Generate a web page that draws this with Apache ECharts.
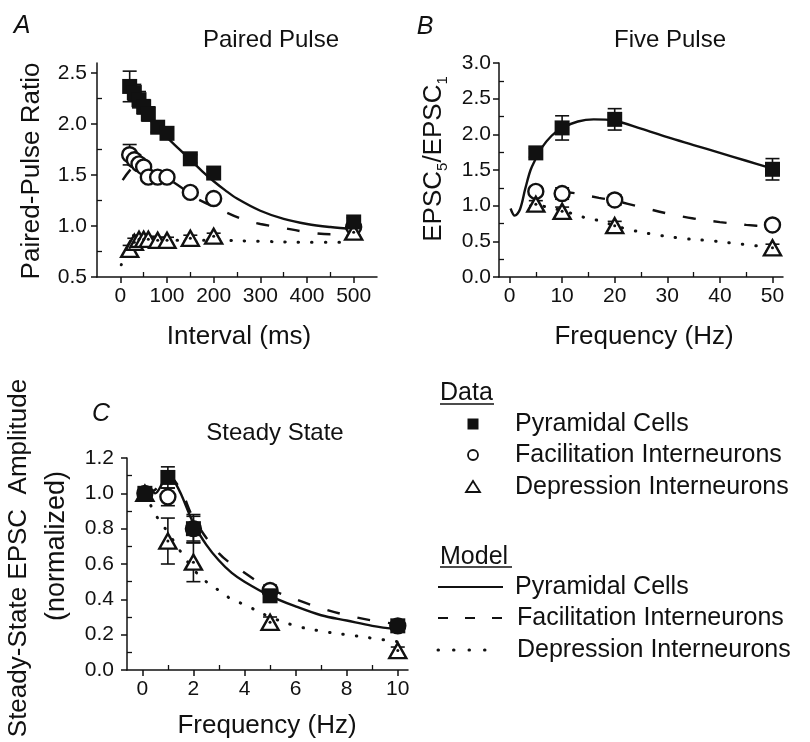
<!DOCTYPE html>
<html>
<head>
<meta charset="utf-8">
<script src="https://cdn.jsdelivr.net/npm/echarts@6/dist/echarts.min.js"></script>
<style>
  html, body { margin: 0; padding: 0; background: #fff; }
  #chart { width: 810px; height: 742px; }
</style>
</head>
<body>
<div id="chart"></div>
<script>
// ---- A: paired pulse ----
var ppInterval = [20, 30, 40, 50, 60, 80, 100, 150, 200, 500];
var ppPyr = [2.37, 2.31, 2.24, 2.17, 2.10, 1.97, 1.91, 1.66, 1.52, 1.04];
var ppPyrErr = [0.15, 0.08, 0.08, 0.07, 0.07, 0.05, 0.05, 0.04, 0.04, 0.04];
var ppFac = [1.70, 1.65, 1.61, 1.58, 1.48, 1.48, 1.48, 1.33, 1.27, 0.99];
var ppFacErr = [0.10, 0.05, 0.04, 0.04, 0.03, 0.03, 0.03, 0.03, 0.03, 0.03];
var ppDep = [0.77, 0.84, 0.87, 0.87, 0.87, 0.86, 0.86, 0.88, 0.90, 0.94];
var ppDepErr = [0.04, 0.04, 0.04, 0.04, 0.03, 0.03, 0.03, 0.03, 0.03, 0.03];
var ppModelPyr = [[20, 2.40], [40, 2.24], [60, 2.09], [80, 1.97], [100, 1.87], [125, 1.76], [150, 1.65], [175, 1.54], [200, 1.44], [225, 1.35], [250, 1.27], [300, 1.15], [350, 1.07], [400, 1.02], [450, 0.99], [500, 0.97]];
var ppModelFac = [[5, 1.45], [25, 1.57], [40, 1.60], [60, 1.56], [80, 1.52], [100, 1.47], [130, 1.38], [160, 1.28], [210, 1.17], [260, 1.07], [300, 1.02], [340, 0.99], [400, 0.94], [450, 0.92], [500, 0.92]];
var ppModelDep = [[2, 0.62], [10, 0.70], [20, 0.77], [30, 0.82], [50, 0.85], [100, 0.86], [200, 0.86], [300, 0.85], [400, 0.84], [475, 0.84]];
var ppXTicks = [0, 100, 200, 300, 400, 500];
var ppXMinor = [50, 150, 250, 350, 450];
var ppYTicks = [0.5, 1.0, 1.5, 2.0, 2.5];
var ppYMinor = [0.75, 1.25, 1.75, 2.25];

// ---- B: five pulse ----
var fpFreq = [5, 10, 20, 50];
var fpPyr = [1.74, 2.09, 2.21, 1.51];
var fpPyrErr = [0.06, 0.17, 0.15, 0.15];
var fpFac = [1.20, 1.17, 1.08, 0.73];
var fpFacErr = [0.06, 0.08, 0.07, 0.06];
var fpDep = [1.02, 0.92, 0.72, 0.41];
var fpDepErr = [0.05, 0.06, 0.06, 0.05];
var fpModelPyr = [[0.2, 0.96], [1, 0.86], [2, 0.95], [3, 1.24], [4, 1.50], [5, 1.66], [6, 1.80], [8, 1.98], [10, 2.09], [13, 2.18], [16, 2.21], [20, 2.19], [25, 2.08], [30, 1.96], [35, 1.85], [40, 1.74], [45, 1.63], [50, 1.52]];
var fpModelFac = [[4, 1.19], [5, 1.20], [10, 1.19], [12, 1.18], [17, 1.11], [20, 1.07], [25, 0.98], [30, 0.89], [35, 0.82], [40, 0.77], [45, 0.73], [50, 0.70]];
var fpModelDep = [[4, 1.00], [5, 1.00], [10, 0.93], [14, 0.84], [17, 0.79], [20, 0.72], [23, 0.66], [28, 0.59], [33, 0.54], [38, 0.51], [43, 0.47], [50, 0.41]];
var fpXTicks = [0, 10, 20, 30, 40, 50];
var fpXMinor = [5, 15, 25, 35, 45];
var fpYTicks = [0, 0.5, 1.0, 1.5, 2.0, 2.5, 3.0];
var fpYMinor = [0.25, 0.75, 1.25, 1.75, 2.25, 2.75];

// ---- C: steady state ----
var ssFreq = [0.1, 1, 2, 5, 10];
var ssPyr = [1.00, 1.09, 0.80, 0.42, 0.25];
var ssPyrErr = [0.03, 0.06, 0.07, 0.03, 0.02];
var ssFac = [1.00, 0.98, 0.80, 0.45, 0.25];
var ssFacErr = [0.02, 0.05, 0.08, 0.03, 0.02];
var ssDep = [1.00, 0.73, 0.61, 0.27, 0.11];
var ssDepErr = [0.02, 0.13, 0.11, 0.03, 0.02];
var ssModelPyr = [[0.1, 1.00], [0.3, 1.03], [0.5, 1.00], [0.8, 1.06], [1, 1.10], [1.2, 1.08], [1.5, 1.00], [2, 0.83], [2.5, 0.71], [3, 0.62], [3.5, 0.55], [4, 0.50], [5, 0.42], [6, 0.36], [7, 0.31], [8, 0.28], [9, 0.25], [10, 0.23]];
var ssModelFac = [[0.1, 1.00], [0.5, 1.02], [1, 1.10], [1.5, 1.02], [2, 0.86], [3, 0.66], [4, 0.55], [5, 0.46], [6, 0.40], [7, 0.35], [8, 0.31], [9, 0.28], [10, 0.26]];
var ssModelDep = [[0.1, 1.00], [0.3, 0.94], [0.6, 0.86], [1, 0.78], [1.5, 0.67], [2, 0.57], [2.5, 0.50], [3, 0.45], [3.5, 0.40], [4, 0.37], [5, 0.30], [6, 0.25], [7, 0.22], [8, 0.20], [9, 0.18], [10, 0.16]];
var ssXTicks = [0, 2, 4, 6, 8, 10];
var ssXMinor = [1, 3, 5, 7, 9];
var ssYTicks = [0, 0.2, 0.4, 0.6, 0.8, 1.0, 1.2];
var ssYMinor = [0.1, 0.3, 0.5, 0.7, 0.9, 1.1];

var FONT = '"Liberation Sans", Arial, Helvetica, sans-serif';
var INK = '#111';

var myChart = echarts.init(document.getElementById('chart'));

function pairs(xs, ys) { return xs.map(function (x, i) { return [x, ys[i]]; }); }
function triples(xs, ys, es) { return xs.map(function (x, i) { return [x, ys[i], es[i]]; }); }
function fmt1(v) { return v.toFixed(1); }
function fmt0(v) { return String(Math.round(v)); }

// main axis: line, outward ticks, labels
function mainAxis(gridIndex, pos, min, max, ticks, fmt, margin) {
  return {
    type: 'value', gridIndex: gridIndex, position: pos, min: min, max: max,
    axisLine: { show: true, onZero: false, lineStyle: { color: INK, width: 1.5 } },
    axisTick: { show: true, customValues: ticks, length: 6, lineStyle: { color: INK, width: 1.5 } },
    axisLabel: { customValues: ticks, formatter: fmt, color: INK, fontSize: 21, fontFamily: FONT, margin: margin },
    splitLine: { show: false }
  };
}
// second axis only for the small inward ticks
function minorAxis(gridIndex, pos, min, max, ticks) {
  return {
    type: 'value', gridIndex: gridIndex, position: pos, min: min, max: max,
    axisLine: { show: false, onZero: false },
    axisTick: { show: true, inside: true, customValues: ticks, length: 5, lineStyle: { color: INK, width: 1.3 } },
    axisLabel: { show: false },
    splitLine: { show: false }
  };
}

function errorBars(ax, data) {
  return {
    type: 'custom', xAxisIndex: ax, yAxisIndex: ax, z: 3, silent: true,
    data: data, encode: { x: 0, y: 1 },
    renderItem: function (params, api) {
      var x = api.value(0), y = api.value(1), e = api.value(2);
      var hi = api.coord([x, y + e]), lo = api.coord([x, y - e]);
      var w = 7, st = { stroke: INK, lineWidth: 1.6 };
      return { type: 'group', children: [
        { type: 'line', shape: { x1: hi[0], y1: hi[1], x2: lo[0], y2: lo[1] }, style: st },
        { type: 'line', shape: { x1: hi[0] - w, y1: hi[1], x2: hi[0] + w, y2: hi[1] }, style: st },
        { type: 'line', shape: { x1: lo[0] - w, y1: lo[1], x2: lo[0] + w, y2: lo[1] }, style: st }
      ]};
    }
  };
}

function modelLine(ax, data, kind) {
  var ls = { color: INK, width: 2.4, type: 'solid' };
  if (kind === 'dash') { ls.type = [13, 18]; }
  if (kind === 'dot') { ls.type = [0.5, 13]; ls.width = 3; ls.cap = 'round'; }
  return { type: 'line', xAxisIndex: ax, yAxisIndex: ax, data: data, symbol: 'none', showSymbol: false,
    smooth: 0.35, z: 2, silent: true, lineStyle: ls };
}

function markers(ax, pyr, fac, dep) {
  var open = { color: '#fff', borderColor: INK, borderWidth: 2.4, opacity: 1 };
  return [
    { type: 'scatter', xAxisIndex: ax, yAxisIndex: ax, data: fac, symbol: 'circle', symbolSize: 15, z: 4, itemStyle: open },
    { type: 'scatter', xAxisIndex: ax, yAxisIndex: ax, data: dep, symbol: 'triangle', symbolSize: [17, 15], z: 4, itemStyle: open },
    { type: 'scatter', xAxisIndex: ax, yAxisIndex: ax, data: dep, symbol: 'circle', symbolSize: 3, z: 5,
      itemStyle: { color: INK, opacity: 1 } },
    { type: 'scatter', xAxisIndex: ax, yAxisIndex: ax, data: pyr, symbol: 'rect', symbolSize: 15, z: 5,
      itemStyle: { color: INK, opacity: 1 } }
  ];
}

function panelSeries(ax, xs, pyr, pyrE, fac, facE, dep, depE, mPyr, mFac, mDep) {
  return [
    modelLine(ax, mPyr, 'solid'), modelLine(ax, mFac, 'dash'), modelLine(ax, mDep, 'dot'),
    errorBars(ax, triples(xs, pyr, pyrE)), errorBars(ax, triples(xs, fac, facE)), errorBars(ax, triples(xs, dep, depE))
  ].concat(markers(ax, pairs(xs, pyr), pairs(xs, fac), pairs(xs, dep)));
}

function txt(x, y, s, size, extra) {
  var st = { text: s, fill: INK, fontSize: size, fontFamily: FONT, align: 'center', verticalAlign: 'middle' };
  for (var k in (extra || {})) { st[k] = extra[k]; }
  return { type: 'text', x: x, y: y, style: st, silent: true };
}
function vtxt(x, y, s, size, extra) {
  var t = txt(x, y, s, size, extra);
  t.rotation = Math.PI / 2;
  return t;
}
function hline(x1, x2, y, dash, w) {
  return { type: 'line', shape: { x1: x1, y1: y, x2: x2, y2: y }, silent: true,
    style: { stroke: INK, lineWidth: w || 2.2, lineDash: dash || null, lineCap: dash && dash[0] < 1 ? 'round' : 'butt' } };
}

var legendX = 515;
var graphics = [
  txt(22, 26, 'A', 25, { fontStyle: 'italic' }),
  txt(271, 40, 'Paired Pulse', 24),
  txt(239, 337, 'Interval (ms)', 26),
  vtxt(32, 171, 'Paired-Pulse Ratio', 26),

  txt(425, 27, 'B', 25, { fontStyle: 'italic' }),
  txt(670, 40, 'Five Pulse', 24),
  txt(644, 337, 'Frequency (Hz)', 26),
  vtxt(434, 159, 'EPSC{s|5}/EPSC{s|1}', 26, { lineHeight: 32, rich: { s: { fontSize: 15, fontFamily: FONT, fill: INK, lineHeight: 15, verticalAlign: 'bottom' } } }),

  txt(101, 414, 'C', 25, { fontStyle: 'italic' }),
  txt(275, 433, 'Steady State', 24),
  txt(267, 726, 'Frequency (Hz)', 26),
  vtxt(19, 558, 'Steady-State EPSC  Amplitude', 26),
  vtxt(57, 546, '(normalized)', 27),

  // legend: data
  txt(440, 393, 'Data', 25, { align: 'left' }),
  hline(440, 494, 404, null, 1.5),
  { type: 'rect', shape: { x: 467.5, y: 418.5, width: 11, height: 11 }, style: { fill: INK }, silent: true },
  { type: 'circle', shape: { cx: 473, cy: 455, r: 5 }, style: { fill: '#fff', stroke: INK, lineWidth: 1.8 }, silent: true },
  { type: 'polygon', shape: { points: [[466, 492], [480, 492], [473, 481]] }, style: { fill: '#fff', stroke: INK, lineWidth: 1.8 }, silent: true },
  txt(legendX, 424, 'Pyramidal Cells', 25, { align: 'left' }),
  txt(legendX, 455, 'Facilitation Interneurons', 25, { align: 'left' }),
  txt(legendX, 487, 'Depression Interneurons', 25, { align: 'left' }),

  // legend: model
  txt(440, 557, 'Model', 25, { align: 'left' }),
  hline(440, 512, 567, null, 1.5),
  hline(438, 503, 587),
  hline(438, 508, 618, [10, 17]),
  hline(438, 500, 650, [0.5, 15], 3),
  txt(legendX, 587, 'Pyramidal Cells', 25, { align: 'left' }),
  txt(legendX + 2, 618, 'Facilitation Interneurons', 25, { align: 'left' }),
  txt(legendX + 2, 650, 'Depression Interneurons', 25, { align: 'left' })
];

var option = {
  animation: false,
  backgroundColor: '#fff',
  grid: [
    { left: 97, top: 63, width: 280, height: 214 },
    { left: 499, top: 63, width: 284, height: 214 },
    { left: 127, top: 458, width: 281, height: 212 }
  ],
  xAxis: [
    mainAxis(0, 'bottom', -50, 550, ppXTicks, fmt0, 9), minorAxis(0, 'bottom', -50, 550, ppXMinor),
    mainAxis(1, 'bottom', -2, 52, fpXTicks, fmt0, 9), minorAxis(1, 'bottom', -2, 52, fpXMinor),
    mainAxis(2, 'bottom', -0.6, 10.4, ssXTicks, fmt0, 9), minorAxis(2, 'bottom', -0.6, 10.4, ssXMinor)
  ],
  yAxis: [
    mainAxis(0, 'left', 0.5, 2.6, ppYTicks, fmt1, 10), minorAxis(0, 'left', 0.5, 2.6, ppYMinor),
    mainAxis(1, 'left', 0, 3.0, fpYTicks, fmt1, 8), minorAxis(1, 'left', 0, 3.0, fpYMinor),
    mainAxis(2, 'left', 0, 1.2, ssYTicks, fmt1, 13), minorAxis(2, 'left', 0, 1.2, ssYMinor)
  ],
  graphic: { elements: graphics },
  series: []
    .concat(panelSeries(0, ppInterval, ppPyr, ppPyrErr, ppFac, ppFacErr, ppDep, ppDepErr, ppModelPyr, ppModelFac, ppModelDep))
    .concat(panelSeries(2, fpFreq, fpPyr, fpPyrErr, fpFac, fpFacErr, fpDep, fpDepErr, fpModelPyr, fpModelFac, fpModelDep))
    .concat(panelSeries(4, ssFreq, ssPyr, ssPyrErr, ssFac, ssFacErr, ssDep, ssDepErr, ssModelPyr, ssModelFac, ssModelDep))
};

myChart.setOption(option);
</script>
</body>
</html>
